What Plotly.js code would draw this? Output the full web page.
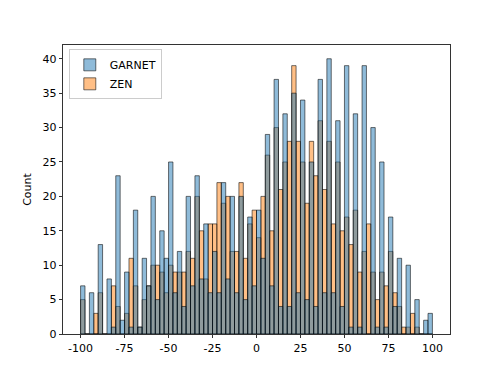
<!DOCTYPE html>
<html>
<head>
<meta charset="utf-8">
<script src="https://cdn.plot.ly/plotly-3.0.1.min.js"></script>
<style>
  html, body { margin: 0; padding: 0; background: #fff; }
  #chart { width: 500px; height: 375px; }
</style>
</head>
<body>
<div id="chart"></div>
<script>
// Histogram bins: left edge and width (shared by both series)
const binStart = -100;
const binWidth = 2.5;

// Counts per bin (80 bins from -100 to 100)
const garnetCounts = [
  7, 0, 6, 0, 13, 0, 8, 1, 23, 2,
  9, 1, 18, 1, 11, 7, 20, 5, 15, 11,
  25, 6, 12, 4, 20, 7, 23, 8, 16, 6,
  12, 6, 22, 8, 20, 6, 20, 5, 17, 7,
  18, 11, 29, 7, 37, 4, 32, 4, 35, 6,
  34, 5, 25, 4, 37, 6, 40, 6, 31, 4,
  39, 1, 32, 1, 39, 0, 30, 1, 25, 1,
  17, 4, 11, 0, 10, 0, 5, 0, 2, 3
];
const zenCounts = [
  5, 0, 0, 3, 6, 0, 0, 7, 4, 0,
  3, 11, 7, 1, 5, 7, 10, 10, 9, 6,
  10, 9, 9, 9, 12, 11, 20, 15, 8, 16,
  16, 22, 19, 20, 12, 12, 22, 11, 16, 18,
  14, 20, 26, 15, 30, 21, 25, 28, 39, 28,
  25, 19, 28, 23, 31, 21, 28, 16, 25, 15,
  17, 13, 18, 9, 12, 16, 9, 5, 9, 7,
  12, 6, 4, 1, 1, 3, 1, 0, 0, 0
];

const xTicks = [-100, -75, -50, -25, 0, 25, 50, 75, 100];
const yTicks = [0, 5, 10, 15, 20, 25, 30, 35, 40];

const centers = garnetCounts.map((_, i) => binStart + binWidth * i + binWidth / 2);

const edge = { color: 'rgba(0,0,0,0.55)', width: 1 };

const zenTrace = {
  type: 'bar', name: 'ZEN', x: centers, y: zenCounts, width: binWidth,
  marker: { color: 'rgba(255,127,14,0.5)', line: edge },
  legendrank: 2, hoverinfo: 'x+y'
};
const garnetTrace = {
  type: 'bar', name: 'GARNET', x: centers, y: garnetCounts, width: binWidth,
  marker: { color: 'rgba(31,119,180,0.5)', line: edge },
  legendrank: 1, hoverinfo: 'x+y'
};

const font = { family: 'DejaVu Sans, sans-serif', size: 11, color: '#000' };

const layout = {
  width: 500, height: 375,
  margin: { l: 62.5, r: 50, t: 45, b: 41, pad: 0 },
  paper_bgcolor: '#fff', plot_bgcolor: '#fff',
  barmode: 'overlay',
  font: font,
  showlegend: true,
  legend: {
    x: 0.015, y: 0.985, xanchor: 'left', yanchor: 'top',
    bgcolor: 'rgba(255,255,255,0.8)', bordercolor: '#cccccc', borderwidth: 1,
    font: { family: 'DejaVu Sans, sans-serif', size: 11, color: '#000' },
    traceorder: 'normal'
  },
  xaxis: {
    range: [-110, 110], tickvals: xTicks, ticktext: xTicks.map(String),
    ticks: 'outside', ticklen: 3.5, tickwidth: 0.8, tickcolor: '#000',
    showline: true, linecolor: '#000', linewidth: 0.8, mirror: true,
    showgrid: false, zeroline: false, tickfont: font
  },
  yaxis: {
    range: [0, 42], tickvals: yTicks, ticktext: yTicks.map(String),
    ticks: 'outside', ticklen: 3.5, tickwidth: 0.8, tickcolor: '#000',
    showline: true, linecolor: '#000', linewidth: 0.8, mirror: true,
    showgrid: false, zeroline: false, tickfont: font,
    title: { text: 'Count', font: font, standoff: 8 }
  }
};

Plotly.newPlot('chart', [zenTrace, garnetTrace], layout, { displayModeBar: false, staticPlot: true });
</script>
</body>
</html>
